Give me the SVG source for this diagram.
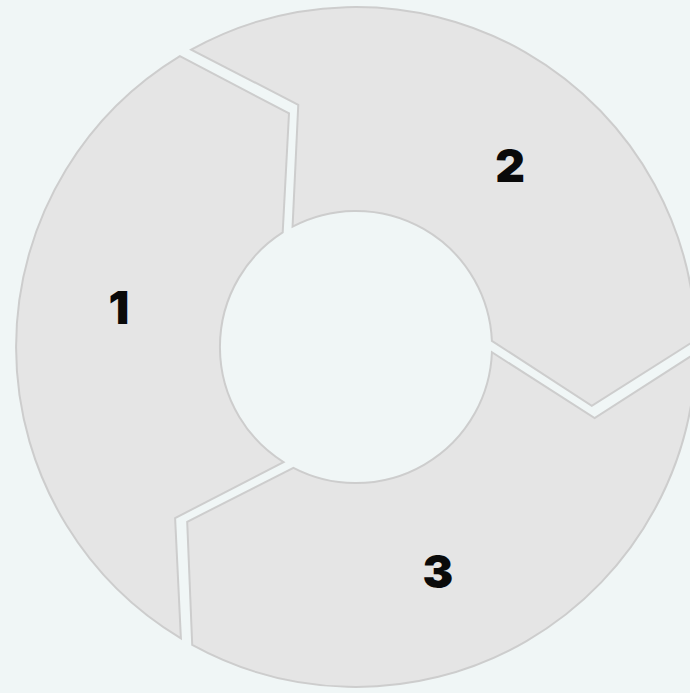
<svg xmlns="http://www.w3.org/2000/svg" width="690" height="693" viewBox="0 0 690 693">
  <defs>
    <style>
      .seg { fill: #e5e5e5; stroke: #cdcdcd; stroke-width: 2; stroke-linejoin: miter; }
      .num { font-family: Inter, "Liberation Sans", sans-serif; font-weight: 900; font-size: 46px; fill: #0a0a0a; text-anchor: middle; }
    </style>
    <path id="segshape" d="M179.9,56.2 A340,340 0 0 0 180.9,638.4 L175.1,518.1 L283.5,462.1 A136,136 0 0 1 282.7,232.4 L289,113.4 Z"/>
  </defs>
  <rect x="0" y="0" width="690" height="693" fill="#f0f6f6"/>
  <g id="node-1">
    <use href="#segshape" class="seg"/>
    <text class="num" x="119" y="324">1</text>
  </g>
  <g id="node-2">
    <use href="#segshape" class="seg" transform="rotate(120 356 347)"/>
    <text class="num" x="510" y="182">2</text>
  </g>
  <g id="node-3">
    <use href="#segshape" class="seg" transform="rotate(240 356 347)"/>
    <text class="num" x="438" y="588">3</text>
  </g>
  <g id="connectors"></g>
</svg>
